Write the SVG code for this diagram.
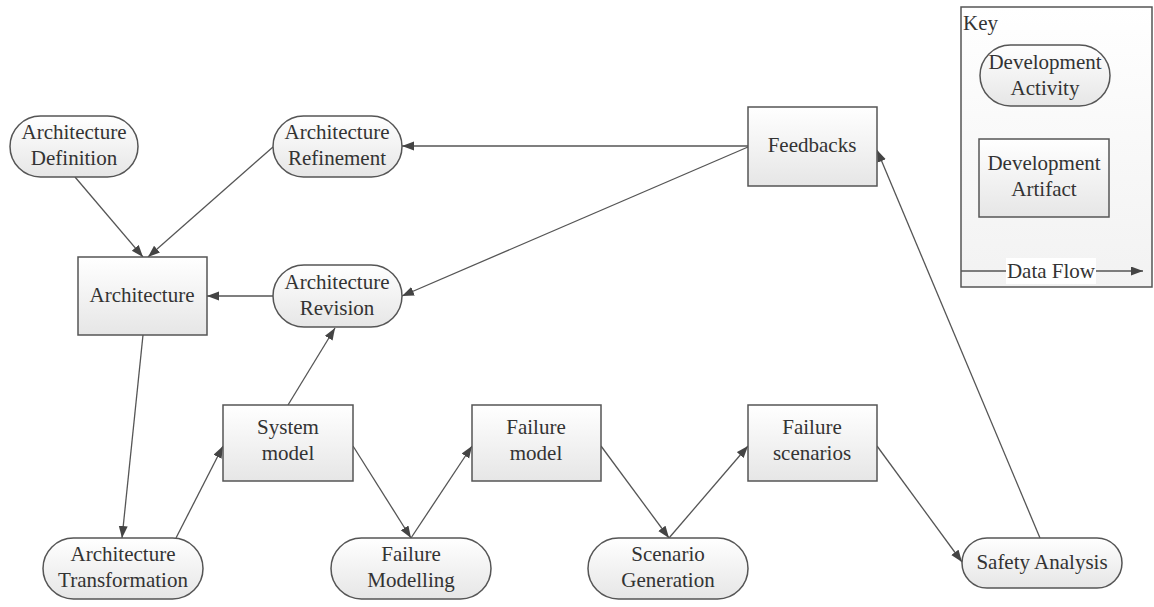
<svg xmlns="http://www.w3.org/2000/svg" width="1154" height="607" viewBox="0 0 1154 607" font-family="Liberation Serif, Tinos, Times New Roman, DejaVu Serif, Noto Serif, serif">
  <style>
    .shape { fill: url(#shade); stroke: #555; stroke-width: 1.5; }
    .label { font-size: 21px; fill: #333; text-anchor: middle; }
    .key { font-size: 21px; fill: #333; }
    .edge { fill: none; stroke: #555; stroke-width: 1.3; marker-end: url(#arrow); }
  </style>
  <defs>
    <linearGradient id="shade" x1="0" y1="0" x2="0" y2="1">
      <stop offset="0" stop-color="#ffffff"/>
      <stop offset="1" stop-color="#e6e6e6"/>
    </linearGradient>
    <linearGradient id="keyShade" x1="0" y1="0" x2="0" y2="1">
      <stop offset="0" stop-color="#ffffff"/>
      <stop offset="1" stop-color="#f2f2f2"/>
    </linearGradient>
    <marker id="arrow" markerUnits="userSpaceOnUse" markerWidth="13" markerHeight="10" refX="12" refY="4.5" orient="auto">
      <path d="M0,0 L12,4.5 L0,9 z" fill="#444"/>
    </marker>
  </defs>

  <rect width="1154" height="607" fill="#ffffff"/>

  <!-- Legend -->
  <g id="legend">
    <rect x="961" y="7" width="191" height="280" fill="url(#keyShade)" stroke="#555" stroke-width="1.5"/>
    <text class="key" x="963" y="30">Key</text>
    <rect class="shape" x="980" y="45" width="130" height="61" rx="30.5" ry="30.5"/>
    <text class="label" x="1045" y="69">Development</text>
    <text class="label" x="1045" y="95">Activity</text>
    <rect class="shape" x="979" y="139" width="130" height="78"/>
    <text class="label" x="1044" y="170">Development</text>
    <text class="label" x="1044" y="196">Artifact</text>
    <line x1="961" y1="271" x2="1143" y2="271" stroke="#555" stroke-width="1.3" marker-end="url(#arrow)"/>
    <rect x="1006" y="258" width="90" height="26" fill="#ffffff"/>
    <text class="label" x="1051" y="278">Data Flow</text>
  </g>

  <!-- Connectors -->
  <g id="connectors">
    <path class="edge" d="M75,177 L143,257"/>
    <path class="edge" d="M273,147 L148,257"/>
    <path class="edge" d="M748,146 L402,146"/>
    <path class="edge" d="M748,147 L402,296"/>
    <path class="edge" d="M273,296 L207,296"/>
    <path class="edge" d="M143,335 L122,538"/>
    <path class="edge" d="M176,538 L223,446"/>
    <path class="edge" d="M288,405 L335,328"/>
    <path class="edge" d="M353,446 L411,538"/>
    <path class="edge" d="M411,538 L472,446"/>
    <path class="edge" d="M601,446 L669,538"/>
    <path class="edge" d="M669,538 L748,446"/>
    <path class="edge" d="M877,446 L962,562"/>
    <path class="edge" d="M1040,538 L877,150"/>
  </g>

  <!-- Activities -->
  <g id="architecture-definition">
    <rect class="shape" x="10" y="116" width="128" height="61" rx="30.5" ry="30.5"/>
    <text class="label" x="74" y="139">Architecture</text>
    <text class="label" x="74" y="165">Definition</text>
  </g>
  <g id="architecture-refinement">
    <rect class="shape" x="273" y="116" width="129" height="61" rx="30.5" ry="30.5"/>
    <text class="label" x="337" y="139">Architecture</text>
    <text class="label" x="337" y="165">Refinement</text>
  </g>
  <g id="architecture-revision">
    <rect class="shape" x="273" y="265" width="129" height="62" rx="31" ry="31"/>
    <text class="label" x="337" y="289">Architecture</text>
    <text class="label" x="337" y="315">Revision</text>
  </g>
  <g id="architecture-transformation">
    <rect class="shape" x="43" y="538" width="160" height="61" rx="30.5" ry="30.5"/>
    <text class="label" x="123" y="561">Architecture</text>
    <text class="label" x="123" y="587">Transformation</text>
  </g>
  <g id="failure-modelling">
    <rect class="shape" x="331" y="538" width="160" height="61" rx="30.5" ry="30.5"/>
    <text class="label" x="411" y="561">Failure</text>
    <text class="label" x="411" y="587">Modelling</text>
  </g>
  <g id="scenario-generation">
    <rect class="shape" x="588" y="538" width="160" height="61" rx="30.5" ry="30.5"/>
    <text class="label" x="668" y="561">Scenario</text>
    <text class="label" x="668" y="587">Generation</text>
  </g>
  <g id="safety-analysis">
    <rect class="shape" x="962" y="538" width="160" height="50" rx="25" ry="25"/>
    <text class="label" x="1042" y="569">Safety Analysis</text>
  </g>

  <!-- Artifacts -->
  <g id="feedbacks">
    <rect class="shape" x="748" y="107" width="129" height="79"/>
    <text class="label" x="812" y="152">Feedbacks</text>
  </g>
  <g id="architecture">
    <rect class="shape" x="78" y="257" width="129" height="78"/>
    <text class="label" x="142" y="302">Architecture</text>
  </g>
  <g id="system-model">
    <rect class="shape" x="223" y="405" width="130" height="76"/>
    <text class="label" x="288" y="434">System</text>
    <text class="label" x="288" y="460">model</text>
  </g>
  <g id="failure-model">
    <rect class="shape" x="472" y="405" width="129" height="76"/>
    <text class="label" x="536" y="434">Failure</text>
    <text class="label" x="536" y="460">model</text>
  </g>
  <g id="failure-scenarios">
    <rect class="shape" x="748" y="405" width="129" height="76"/>
    <text class="label" x="812" y="434">Failure</text>
    <text class="label" x="812" y="460">scenarios</text>
  </g>
</svg>
